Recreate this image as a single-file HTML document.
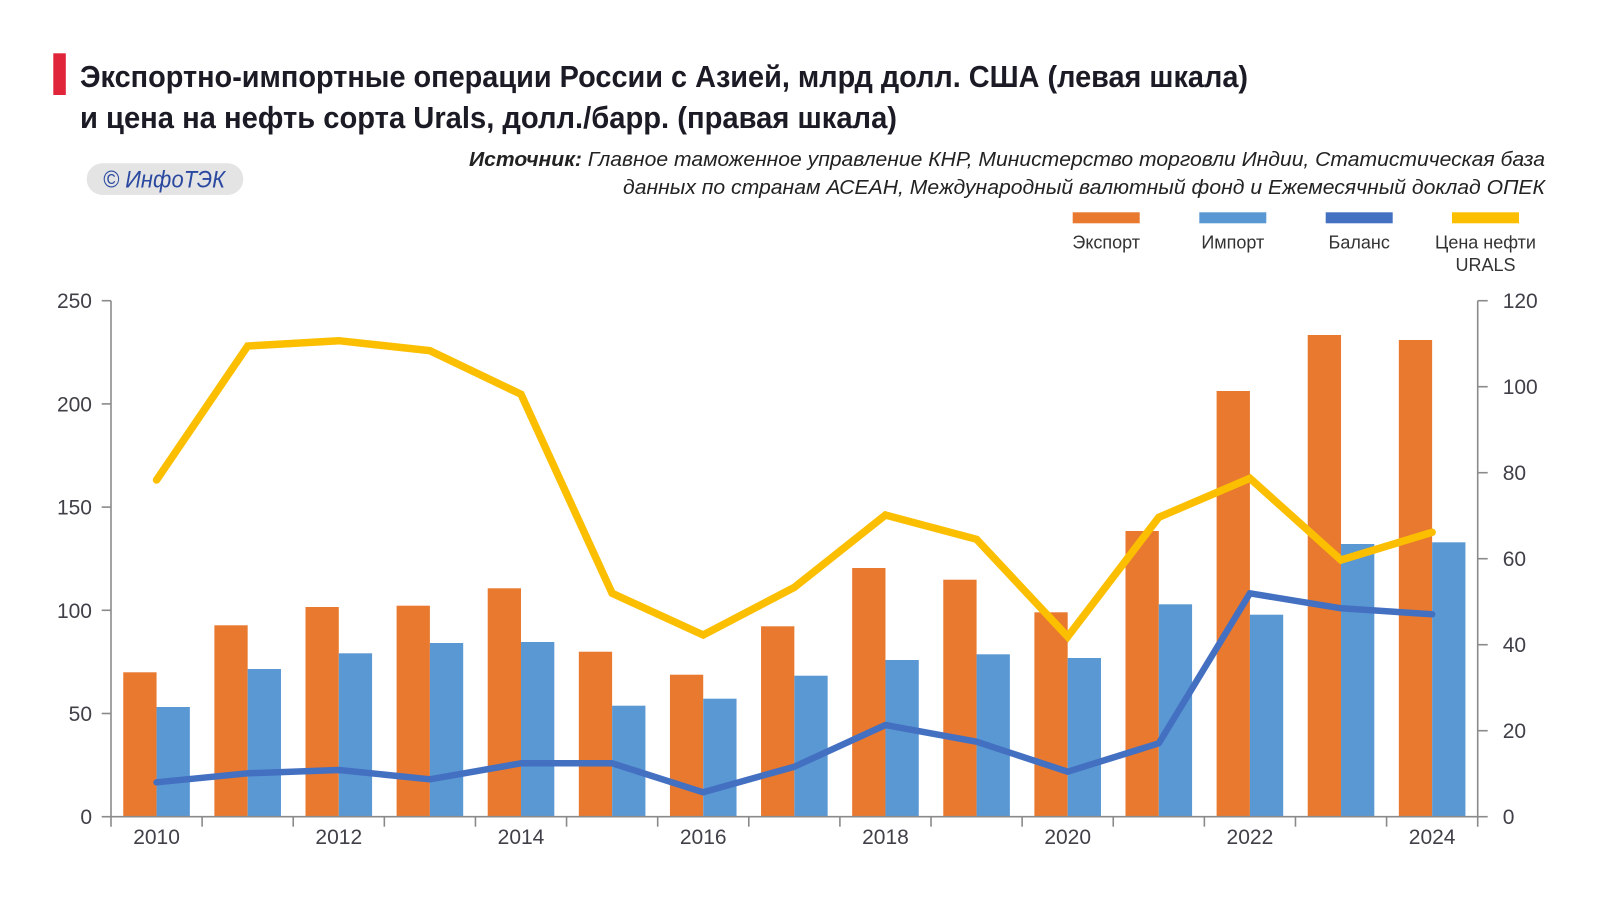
<!DOCTYPE html>
<html>
<head>
<meta charset="utf-8">
<style>
  html,body{margin:0;padding:0;background:#fff;}
  svg{display:block;}
  text{font-family:"Liberation Sans","Noto Sans CJK SC",sans-serif;}
</style>
</head>
<body>
<svg width="1600" height="900" viewBox="0 0 1600 900" xmlns="http://www.w3.org/2000/svg">
  <rect width="1600" height="900" fill="#ffffff"/>

  <!-- Title -->
  <rect x="53.3" y="53.3" width="12.5" height="41.7" fill="#e0243a"/>
  <text x="80" y="87" font-size="31" font-weight="bold" fill="#1b1b25" textLength="1168" lengthAdjust="spacingAndGlyphs">Экспортно-импортные операции России с Азией, млрд долл. США (левая шкала)</text>
  <text x="80" y="128" font-size="31" font-weight="bold" fill="#1b1b25" textLength="817" lengthAdjust="spacingAndGlyphs">и цена на нефть сорта Urals, долл./барр. (правая шкала)</text>

  <!-- Logo pill -->
  <rect x="86.7" y="163.3" width="156.6" height="31.7" rx="15.8" ry="15.8" fill="#e4e4e4"/>
  <text x="103" y="187.3" font-size="24" font-style="italic" fill="#2a48a0" textLength="122" lengthAdjust="spacingAndGlyphs">© ИнфоТЭК</text>

  <!-- Source -->
  <text x="1545" y="166" font-size="20" font-style="italic" fill="#222" text-anchor="end" textLength="1076" lengthAdjust="spacingAndGlyphs"><tspan font-weight="bold">Источник:</tspan> Главное таможенное управление КНР, Министерство торговли Индии, Статистическая база</text>
  <text x="1545" y="194" font-size="20" font-style="italic" fill="#222" text-anchor="end" textLength="922" lengthAdjust="spacingAndGlyphs">данных по странам АСЕАН, Международный валютный фонд и Ежемесячный доклад ОПЕК</text>

  <!-- Legend -->
  <rect x="1072.7" y="212.3" width="67" height="11" fill="#e8792f"/>
  <rect x="1199.3" y="212.3" width="67" height="11" fill="#5a98d4"/>
  <rect x="1325.7" y="212.3" width="67" height="11" fill="#4470c2"/>
  <rect x="1452" y="212.3" width="67" height="11" fill="#fbbf00"/>
  <g font-size="18" fill="#333" text-anchor="middle">
    <text x="1106.2" y="248.3">Экспорт</text>
    <text x="1232.8" y="248.3">Импорт</text>
    <text x="1359.2" y="248.3">Баланс</text>
    <text x="1485.5" y="248.3">Цена нефти</text>
    <text x="1485.5" y="271">URALS</text>
  </g>

  <!-- Bars: export -->
  <g fill="#e8792f">
    <rect x="123.26" y="672.3" width="33.3" height="144.4"/>
    <rect x="214.37" y="625.3" width="33.3" height="191.4"/>
    <rect x="305.48" y="607" width="33.3" height="209.7"/>
    <rect x="396.60" y="605.7" width="33.3" height="211"/>
    <rect x="487.71" y="588.3" width="33.3" height="228.4"/>
    <rect x="578.82" y="651.7" width="33.3" height="165"/>
    <rect x="669.93" y="674.7" width="33.3" height="142"/>
    <rect x="761.05" y="626.3" width="33.3" height="190.4"/>
    <rect x="852.16" y="568" width="33.3" height="248.7"/>
    <rect x="943.27" y="579.7" width="33.3" height="237"/>
    <rect x="1034.38" y="612.3" width="33.3" height="204.4"/>
    <rect x="1125.49" y="531" width="33.3" height="285.7"/>
    <rect x="1216.61" y="391" width="33.3" height="425.7"/>
    <rect x="1307.72" y="335" width="33.3" height="481.7"/>
    <rect x="1398.83" y="340" width="33.3" height="476.7"/>
  </g>
  <!-- Bars: import -->
  <g fill="#5a98d4">
    <rect x="156.56" y="707" width="33.3" height="109.7"/>
    <rect x="247.67" y="669" width="33.3" height="147.7"/>
    <rect x="338.78" y="653.3" width="33.3" height="163.4"/>
    <rect x="429.90" y="643" width="33.3" height="173.7"/>
    <rect x="521.01" y="642" width="33.3" height="174.7"/>
    <rect x="612.12" y="705.7" width="33.3" height="111"/>
    <rect x="703.23" y="698.7" width="33.3" height="118"/>
    <rect x="794.35" y="675.7" width="33.3" height="141"/>
    <rect x="885.46" y="660" width="33.3" height="156.7"/>
    <rect x="976.57" y="654.3" width="33.3" height="162.4"/>
    <rect x="1067.68" y="658" width="33.3" height="158.7"/>
    <rect x="1158.79" y="604.3" width="33.3" height="212.4"/>
    <rect x="1249.91" y="614.7" width="33.3" height="202"/>
    <rect x="1341.02" y="544" width="33.3" height="272.7"/>
    <rect x="1432.13" y="542.3" width="33.3" height="274.4"/>
  </g>

  <!-- Balance line -->
  <polyline fill="none" stroke="#4470c2" stroke-width="6.5" stroke-linecap="round" stroke-linejoin="round"
    points="156.56,782.3 247.67,773.3 338.78,770 429.90,779.3 521.01,763.3 612.12,763.3 703.23,792.3 794.35,766.7 885.46,725 976.57,741.7 1067.68,771.7 1158.79,743.3 1249.91,593.3 1341.02,608.3 1432.13,614.3"/>

  <!-- Urals line -->
  <polyline fill="none" stroke="#fbbf00" stroke-width="7.5" stroke-linecap="round" stroke-linejoin="miter"
    points="156.56,480 247.67,346 338.78,340.7 429.90,350.7 521.01,394.3 612.12,593.3 703.23,635 794.35,587.3 885.46,515 976.57,539.3 1067.68,636.7 1158.79,517.3 1249.91,478.3 1341.02,560 1432.13,532.3"/>

  <!-- Axes -->
  <g stroke="#8a8a8a" stroke-width="1.6" fill="none">
    <line x1="111" y1="300.7" x2="111" y2="826.7"/>
    <line x1="1477.7" y1="300.7" x2="1477.7" y2="826.7"/>
    <line x1="111" y1="816.7" x2="1477.7" y2="816.7"/>
    <!-- left ticks -->
    <line x1="101.7" y1="816.7" x2="111" y2="816.7"/>
    <line x1="101.7" y1="713.5" x2="111" y2="713.5"/>
    <line x1="101.7" y1="610.3" x2="111" y2="610.3"/>
    <line x1="101.7" y1="507.1" x2="111" y2="507.1"/>
    <line x1="101.7" y1="403.9" x2="111" y2="403.9"/>
    <line x1="101.7" y1="300.7" x2="111" y2="300.7"/>
    <!-- right ticks -->
    <line x1="1477.7" y1="816.7" x2="1487.7" y2="816.7"/>
    <line x1="1477.7" y1="730.7" x2="1487.7" y2="730.7"/>
    <line x1="1477.7" y1="644.7" x2="1487.7" y2="644.7"/>
    <line x1="1477.7" y1="558.7" x2="1487.7" y2="558.7"/>
    <line x1="1477.7" y1="472.7" x2="1487.7" y2="472.7"/>
    <line x1="1477.7" y1="386.7" x2="1487.7" y2="386.7"/>
    <line x1="1477.7" y1="300.7" x2="1487.7" y2="300.7"/>
    <!-- bottom ticks -->
    <line x1="202.11" y1="816.7" x2="202.11" y2="826.7"/>
    <line x1="293.23" y1="816.7" x2="293.23" y2="826.7"/>
    <line x1="384.34" y1="816.7" x2="384.34" y2="826.7"/>
    <line x1="475.45" y1="816.7" x2="475.45" y2="826.7"/>
    <line x1="566.57" y1="816.7" x2="566.57" y2="826.7"/>
    <line x1="657.68" y1="816.7" x2="657.68" y2="826.7"/>
    <line x1="748.79" y1="816.7" x2="748.79" y2="826.7"/>
    <line x1="839.90" y1="816.7" x2="839.90" y2="826.7"/>
    <line x1="931.02" y1="816.7" x2="931.02" y2="826.7"/>
    <line x1="1022.13" y1="816.7" x2="1022.13" y2="826.7"/>
    <line x1="1113.24" y1="816.7" x2="1113.24" y2="826.7"/>
    <line x1="1204.36" y1="816.7" x2="1204.36" y2="826.7"/>
    <line x1="1295.47" y1="816.7" x2="1295.47" y2="826.7"/>
    <line x1="1386.58" y1="816.7" x2="1386.58" y2="826.7"/>
  </g>

  <!-- Left axis labels -->
  <g font-size="21" fill="#404048" text-anchor="end">
    <text x="92" y="824.2">0</text>
    <text x="92" y="721">50</text>
    <text x="92" y="617.8">100</text>
    <text x="92" y="514.6">150</text>
    <text x="92" y="411.4">200</text>
    <text x="92" y="308.2">250</text>
  </g>
  <!-- Right axis labels -->
  <g font-size="21" fill="#404048" text-anchor="start">
    <text x="1502.7" y="824.2">0</text>
    <text x="1502.7" y="738.2">20</text>
    <text x="1502.7" y="652.2">40</text>
    <text x="1502.7" y="566.2">60</text>
    <text x="1502.7" y="480.2">80</text>
    <text x="1502.7" y="394.2">100</text>
    <text x="1502.7" y="308.2">120</text>
  </g>
  <!-- X labels -->
  <g font-size="21" fill="#404048" text-anchor="middle">
    <text x="156.56" y="844">2010</text>
    <text x="338.78" y="844">2012</text>
    <text x="521.01" y="844">2014</text>
    <text x="703.23" y="844">2016</text>
    <text x="885.46" y="844">2018</text>
    <text x="1067.68" y="844">2020</text>
    <text x="1249.91" y="844">2022</text>
    <text x="1432.13" y="844">2024</text>
  </g>
</svg>
</body>
</html>
